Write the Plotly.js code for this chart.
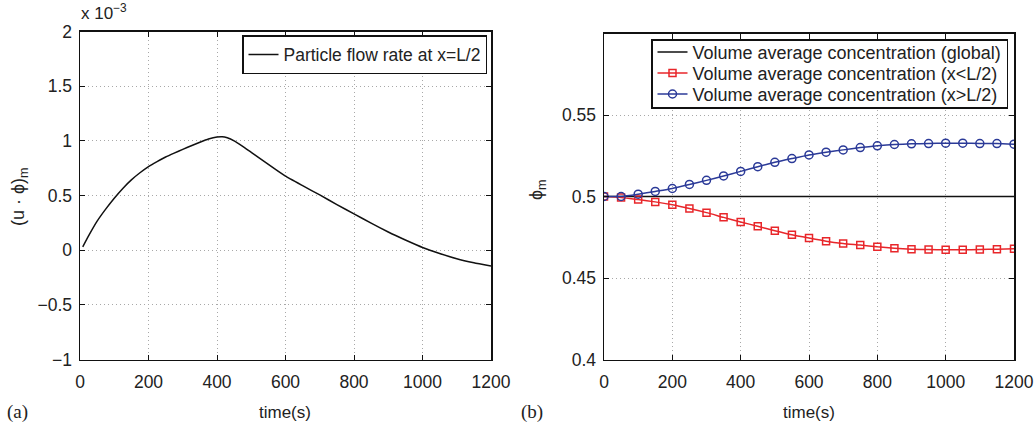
<!DOCTYPE html>
<html>
<head>
<meta charset="utf-8">
<script src="https://cdn.plot.ly/plotly-3.0.1.min.js"></script>
<style>html,body{margin:0;padding:0;background:#fff;}#chart{width:1036px;height:426px;}</style>
</head>
<body>
<div id="chart"></div>
<script>
// (a) particle flow rate at x=L/2, values in units of 1e-3
const timeA = [8, 25, 50, 75, 100, 125, 150, 175, 200, 225, 250, 275, 300, 325, 350, 375, 400, 415, 430, 450, 475, 500, 525, 550, 575, 600, 650, 700, 750, 800, 850, 900, 950, 1000, 1050, 1100, 1150, 1200];
const flowRate = [0.03, 0.13, 0.265, 0.375, 0.475, 0.565, 0.643, 0.708, 0.765, 0.81, 0.852, 0.888, 0.922, 0.955, 0.987, 1.016, 1.035, 1.038, 1.028, 1.0, 0.95, 0.895, 0.84, 0.785, 0.73, 0.677, 0.59, 0.505, 0.417, 0.332, 0.247, 0.166, 0.093, 0.025, -0.03, -0.078, -0.115, -0.145];

// (b) volume average concentration
const timeB = [0, 50, 100, 150, 200, 250, 300, 350, 400, 450, 500, 550, 600, 650, 700, 750, 800, 850, 900, 950, 1000, 1050, 1100, 1150, 1200];
const concGlobal = [0.5, 0.5, 0.5, 0.5, 0.5, 0.5, 0.5, 0.5, 0.5, 0.5, 0.5, 0.5, 0.5, 0.5, 0.5, 0.5, 0.5, 0.5, 0.5, 0.5, 0.5, 0.5, 0.5, 0.5, 0.5];
const concLeft = [0.5, 0.4994, 0.4981, 0.4967, 0.4949, 0.4926, 0.4901, 0.4872, 0.4844, 0.4817, 0.4790, 0.4765, 0.4745, 0.4726, 0.4712, 0.4702, 0.4691, 0.4683, 0.4677, 0.4675, 0.4673, 0.4673, 0.4675, 0.4677, 0.4679];
const concRight = [0.5, 0.5, 0.5014, 0.5031, 0.5049, 0.5074, 0.5099, 0.5126, 0.5154, 0.5183, 0.5210, 0.5233, 0.5255, 0.5272, 0.5286, 0.5300, 0.5311, 0.5319, 0.5323, 0.5325, 0.5327, 0.5327, 0.5325, 0.5325, 0.5321];

const xTicks = [0, 200, 400, 600, 800, 1000, 1200];
const yTicksA = [-1, -0.5, 0, 0.5, 1, 1.5, 2];
const yTickTextA = ['−1', '−0.5', '0', '0.5', '1', '1.5', '2'];
const yTicksB = [0.4, 0.45, 0.5, 0.55];

const W = 1036, H = 426;
const px = x => x / W;
const py = y => 1 - y / H;
const FONT = 'Liberation Sans, Arial, Helvetica, sans-serif';
const TXT = '#222';

function axisBase(extra) {
  return Object.assign({
    showline: true, linecolor: '#111', linewidth: 1.5, mirror: 'ticks',
    ticks: 'inside', ticklen: 5, tickcolor: '#111', tickwidth: 1,
    showgrid: true, gridcolor: '#a8a8a8', griddash: '1px,3px', gridwidth: 1,
    zeroline: false, tickfont: {family: FONT, size: 17.5, color: TXT},
    fixedrange: true
  }, extra);
}

const traces = [
  {x: timeA, y: flowRate, type: 'scatter', mode: 'lines', name: 'Particle flow rate at x=L/2',
   line: {color: '#111', width: 1.5, shape: 'spline', smoothing: 0.4}, xaxis: 'x', yaxis: 'y', legend: 'legend'},
  {x: timeB, y: concGlobal, type: 'scatter', mode: 'lines', name: 'Volume average concentration (global)',
   line: {color: '#111', width: 1.5}, xaxis: 'x2', yaxis: 'y2', legend: 'legend2'},
  {x: timeB, y: concLeft, type: 'scatter', mode: 'lines+markers', name: 'Volume average concentration (x&lt;L/2)',
   line: {color: '#e8262a', width: 1.5, shape: 'spline', smoothing: 0.5},
   marker: {symbol: 'square-open', size: 7, color: '#e8262a', line: {width: 1.5}}, xaxis: 'x2', yaxis: 'y2', legend: 'legend2'},
  {x: timeB, y: concRight, type: 'scatter', mode: 'lines+markers', name: 'Volume average concentration (x&gt;L/2)',
   line: {color: '#2b3a98', width: 1.5, shape: 'spline', smoothing: 0.5},
   marker: {symbol: 'circle-open', size: 8, color: '#2b3a98', line: {width: 1.5}}, xaxis: 'x2', yaxis: 'y2', legend: 'legend2'}
];

const layout = {
  width: W, height: H,
  margin: {l: 0, r: 0, t: 0, b: 0},
  paper_bgcolor: '#fff', plot_bgcolor: '#fff',
  showlegend: true,
  font: {family: FONT, color: TXT, size: 17},
  xaxis: axisBase({domain: [px(80), px(491)], range: [0, 1200], tickvals: xTicks, anchor: 'y', ticklabelstandoff: 6}),
  yaxis: axisBase({domain: [py(359.5), py(31.5)], range: [-1, 2], tickvals: yTicksA, ticktext: yTickTextA, anchor: 'x', ticklabelstandoff: 3}),
  xaxis2: axisBase({domain: [px(604), px(1014)], range: [0, 1200], tickvals: xTicks, anchor: 'y2', ticklabelstandoff: 6}),
  yaxis2: axisBase({domain: [py(359.5), py(33.5)], range: [0.4, 0.6], tickvals: yTicksB, anchor: 'x2', ticklabelstandoff: 3}),
  legend: {x: px(487), xanchor: 'right', y: py(35), yanchor: 'top', bgcolor: '#fff',
           bordercolor: '#111', borderwidth: 1.5, font: {family: FONT, size: 17.5, color: TXT},
           tracegroupgap: 0, itemwidth: 30},
  legend2: {x: px(1008), xanchor: 'right', y: py(39), yanchor: 'top', bgcolor: '#fff',
            bordercolor: '#111', borderwidth: 1.5, font: {family: FONT, size: 18, color: TXT},
            tracegroupgap: 0, itemwidth: 30},
  annotations: [
    {text: 'x 10<sup>−3</sup>', x: px(79), y: py(25), xref: 'paper', yref: 'paper', xanchor: 'left', yanchor: 'bottom', showarrow: false, font: {family: FONT, size: 17, color: TXT}},
    {text: '(u · ϕ)<sub>m</sub>', x: px(19), y: py(197), xref: 'paper', yref: 'paper', xanchor: 'center', yanchor: 'middle', textangle: -90, showarrow: false, font: {family: FONT, size: 18, color: TXT}},
    {text: 'ϕ<sub>m</sub>', x: px(537), y: py(190), xref: 'paper', yref: 'paper', xanchor: 'center', yanchor: 'middle', textangle: -90, showarrow: false, font: {family: FONT, size: 18, color: TXT}},
    {text: 'time(s)', x: px(285), y: py(412), xref: 'paper', yref: 'paper', xanchor: 'center', yanchor: 'middle', showarrow: false, font: {family: FONT, size: 17, color: TXT}},
    {text: 'time(s)', x: px(809), y: py(412), xref: 'paper', yref: 'paper', xanchor: 'center', yanchor: 'middle', showarrow: false, font: {family: FONT, size: 17, color: TXT}},
    {text: '(a)', x: px(5), y: py(412), xref: 'paper', yref: 'paper', xanchor: 'left', yanchor: 'middle', showarrow: false, font: {family: 'Liberation Serif, Times New Roman, serif', size: 19, color: TXT}},
    {text: '(b)', x: px(519), y: py(412), xref: 'paper', yref: 'paper', xanchor: 'left', yanchor: 'middle', showarrow: false, font: {family: 'Liberation Serif, Times New Roman, serif', size: 19, color: TXT}}
  ]
};

// tighten legend row spacing to match the reference (21 px rows)
function tightenLegend(gd, cls, rowGap, pad) {
  const lg = gd.querySelector('g.' + cls);
  if (!lg) return;
  const items = lg.querySelectorAll('g.traces');
  const parse = el => {
    const m = /translate\(\s*([-\d.]+)[ ,]+([-\d.]+)/.exec(el.getAttribute('transform') || '');
    return m ? [+m[1], +m[2]] : [0, 0];
  };
  items.forEach((el, i) => {
    const p = parse(el);
    el.setAttribute('transform', 'translate(' + p[0] + ',' + (pad + i * rowGap) + ')');
  });
  const bg = lg.querySelector('rect.bg');
  if (bg) bg.setAttribute('height', 2 * pad + (items.length - 1) * rowGap);
}

Plotly.newPlot('chart', traces, layout, {displayModeBar: false, staticPlot: true}).then(gd => {
  tightenLegend(gd, 'legend2', 21, 13);
});
</script>
</body>
</html>
